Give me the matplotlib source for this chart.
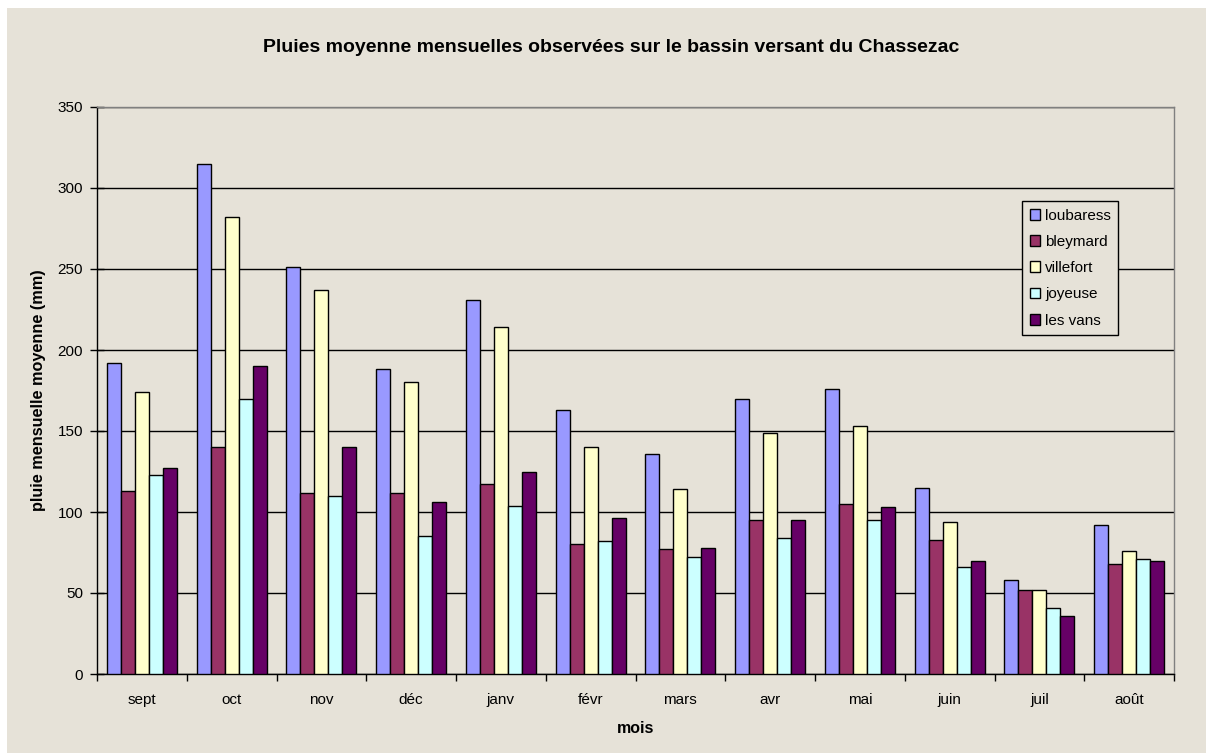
import numpy as np
import matplotlib
matplotlib.use("Agg")
import matplotlib.pyplot as plt

# données (mm)
mois = ["sept", "oct", "nov", "déc", "janv", "févr", "mars", "avr", "mai", "juin", "juil", "août"]
loubaress = [192, 315, 251, 188, 231, 163, 136, 170, 176, 115, 58, 92]
bleymard = [113, 140, 112, 112, 117, 80, 77, 95, 105, 83, 52, 68]
villefort = [174, 282, 237, 180, 214, 140, 114, 149, 153, 94, 52, 76]
joyeuse = [123, 170, 110, 85, 104, 82, 72, 84, 95, 66, 41, 71]
les_vans = [127, 190, 140, 106, 125, 96, 78, 95, 103, 70, 36, 70]

series = [loubaress, bleymard, villefort, joyeuse, les_vans]
noms = ["loubaress", "bleymard", "villefort", "joyeuse", "les vans"]
couleurs = ["#9999FF", "#993366", "#FFFFCC", "#CCFFFF", "#660066"]

fond = "#E6E2D8"
plt.rcParams["font.family"] = ["Liberation Sans", "DejaVu Sans"]

fig = plt.figure(figsize=(12.06, 7.53), dpi=100, facecolor="white")
# zone beige du graphique (bord blanc à gauche et en haut)
fig.patches.append(plt.Rectangle((7 / 1206, -0.01), 1, 1.01 - 8 / 753, transform=fig.transFigure,
                                 facecolor=fond, edgecolor="none", zorder=-10))

ax = fig.add_axes([97 / 1206, 1 - 674 / 753, (1174 - 97) / 1206, (674 - 107) / 753])
ax.set_facecolor(fond)

x = np.arange(len(mois))
larg = 0.78 / 5
for i, (vals, nom, c) in enumerate(zip(series, noms, couleurs)):
    ax.bar(x - 0.39 + larg * (i + 0.5), vals, width=larg, color=c, edgecolor="black",
           linewidth=1.0, label=nom, zorder=3)

ax.set_xlim(-0.5, len(mois) - 0.5)
ax.set_ylim(0, 350)
ax.set_yticks(np.arange(0, 351, 50))
ax.yaxis.grid(True, color="black", linewidth=1.0, zorder=0)

# graduations x aux limites des catégories
ax.set_xticks(np.arange(-0.5, len(mois), 1.0))
ax.set_xticklabels([])
ax.set_xticks(x, minor=True)
ax.set_xticklabels(mois, minor=True, fontsize=11)
ax.tick_params(axis="x", which="minor", length=0, pad=13.5)
ax.tick_params(axis="x", which="major", length=5, width=1, direction="out", color="black")
ax.tick_params(axis="y", length=10, width=1, direction="inout", labelsize=11, pad=5)

for s in ["left", "bottom"]:
    ax.spines[s].set_color("black")
    ax.spines[s].set_linewidth(1.0)
for s in ["top", "right"]:
    ax.spines[s].set_color("#808080")
    ax.spines[s].set_linewidth(1.0)

ax.set_xlabel("mois", fontsize=11.5, fontweight="bold", labelpad=10)
ax.set_ylabel("pluie mensuelle moyenne (mm)", fontsize=11.7, fontweight="bold", labelpad=8)
fig.text(611 / 1206, 1 - 48 / 753,
         "Pluies moyenne mensuelles observées sur le bassin versant du Chassezac",
         ha="center", va="center", fontsize=14, fontweight="bold")

leg = ax.legend(loc="upper left", bbox_to_anchor=((1022 - 97) / 1077, (674 - 201) / 567),
                fontsize=11, frameon=True, fancybox=False, handlelength=0.7, handleheight=0.7,
                handletextpad=0.3, labelspacing=0.8, borderpad=0.5, borderaxespad=0)
leg.get_frame().set_facecolor(fond)
leg.get_frame().set_edgecolor("black")
leg.get_frame().set_linewidth(1.0)
leg.get_frame().set_alpha(1)

fig.savefig("out.png", dpi=100, facecolor=fig.get_facecolor())
